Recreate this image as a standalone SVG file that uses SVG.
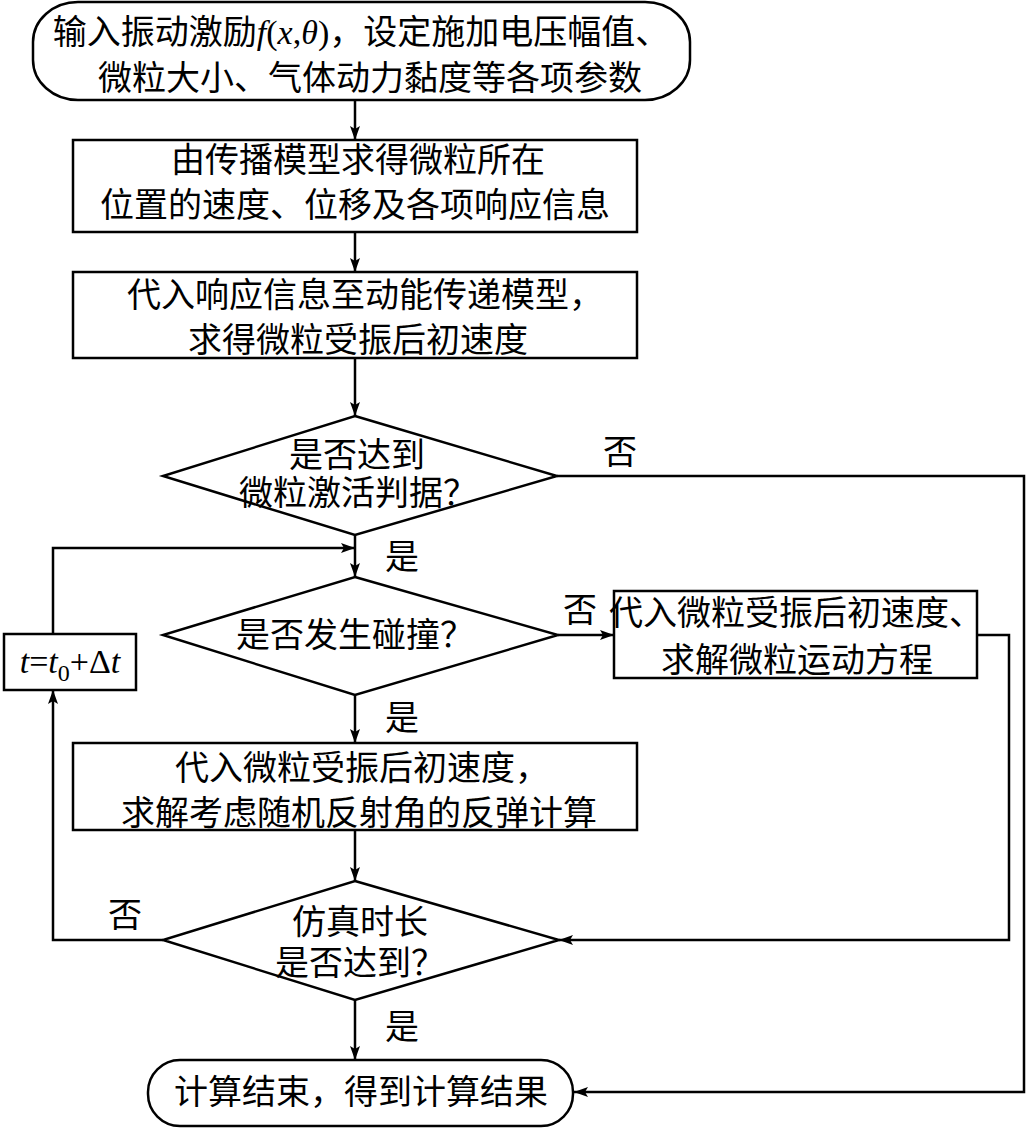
<svg xmlns="http://www.w3.org/2000/svg" width="1028" height="1129" viewBox="0 0 1028 1129">
<style>
.s{fill:#fff;stroke:#000;stroke-width:2.5}
.c{fill:none;stroke:#000;stroke-width:2.5}
.t{font-family:"Liberation Serif","Noto Sans CJK SC",serif;font-size:34px;fill:#000;text-anchor:middle}
.i{font-style:italic}
</style>
<defs>
<marker id="a" viewBox="0 0 14 10" refX="14" refY="5" markerWidth="14" markerHeight="10" markerUnits="userSpaceOnUse" orient="auto">
<path d="M0,0 L14,5 L0,10 L3,5 Z" fill="#000"/>
</marker>
</defs>
<rect width="1028" height="1129" fill="#fff"/>
<g id="connectors">
<line class="c" x1="355" y1="100" x2="355" y2="140" marker-end="url(#a)"/>
<line class="c" x1="355" y1="232" x2="355" y2="272" marker-end="url(#a)"/>
<line class="c" x1="355" y1="358" x2="355" y2="416" marker-end="url(#a)"/>
<line class="c" x1="355" y1="535" x2="355" y2="577" marker-end="url(#a)"/>
<polyline class="c" points="557,476 1024,476 1024,1092 574,1092" marker-end="url(#a)"/>
<polyline class="c" points="53,634 53,548 355,548" marker-end="url(#a)"/>
<line class="c" x1="558" y1="635" x2="614" y2="635" marker-end="url(#a)"/>
<line class="c" x1="355" y1="695" x2="355" y2="743" marker-end="url(#a)"/>
<polyline class="c" points="977,635 1009,635 1009,940 559,940" marker-end="url(#a)"/>
<line class="c" x1="355" y1="830" x2="355" y2="881" marker-end="url(#a)"/>
<polyline class="c" points="163,940 53,940 53,690" marker-end="url(#a)"/>
<line class="c" x1="355" y1="1000" x2="355" y2="1060" marker-end="url(#a)"/>
<text class="t" x="620" y="464">否</text>
<text class="t" x="402" y="569">是</text>
<text class="t" x="580" y="622">否</text>
<text class="t" x="402" y="730">是</text>
<text class="t" x="125" y="927">否</text>
<text class="t" x="402" y="1039">是</text>
</g>
<g id="start">
<rect class="s" x="33" y="2" width="657" height="98" rx="45" ry="40"/>
<text class="t" x="361" y="44">输入振动激励<tspan font-family="Liberation Serif" class="i">f</tspan><tspan font-family="Liberation Serif">(</tspan><tspan font-family="Liberation Serif" class="i">x</tspan><tspan font-family="Liberation Serif">,</tspan><tspan font-family="Liberation Serif" class="i">θ</tspan><tspan font-family="Liberation Serif">)</tspan>，设定施加电压幅值、</text>
<text class="t" x="370" y="90">微粒大小、气体动力黏度等各项参数</text>
</g>
<g id="propagation">
<rect class="s" x="73" y="140" width="564" height="92"/>
<text class="t" x="358" y="172">由传播模型求得微粒所在</text>
<text class="t" x="355" y="217">位置的速度、位移及各项响应信息</text>
</g>
<g id="energy">
<rect class="s" x="73" y="272" width="564" height="86"/>
<text class="t" x="365" y="307">代入响应信息至动能传递模型，</text>
<text class="t" x="358" y="352">求得微粒受振后初速度</text>
</g>
<g id="activation">
<polygon class="s" points="355,416 557,476 355,535 163,476"/>
<text class="t" x="357" y="467">是否达到</text>
<text class="t" x="358" y="505">微粒激活判据？</text>
</g>
<g id="collision">
<polygon class="s" points="355,577 558,635 355,695 163,635"/>
<text class="t" x="355" y="647">是否发生碰撞？</text>
</g>
<g id="motion">
<rect class="s" x="614" y="591" width="363" height="87"/>
<text class="t" x="796" y="625">代入微粒受振后初速度、</text>
<text class="t" x="797" y="672">求解微粒运动方程</text>
</g>
<g id="timestep">
<rect class="s" x="4" y="634" width="132" height="56"/>
<text class="t" x="70" y="673" font-family="Liberation Serif"><tspan class="i">t</tspan>=<tspan class="i">t</tspan><tspan font-size="24" dy="8">0</tspan><tspan dy="-8">+Δ</tspan><tspan class="i">t</tspan></text>
</g>
<g id="rebound">
<rect class="s" x="73" y="743" width="564" height="87"/>
<text class="t" x="362" y="780">代入微粒受振后初速度，</text>
<text class="t" x="359" y="825">求解考虑随机反射角的反弹计算</text>
</g>
<g id="simtime">
<polygon class="s" points="355,881 559,940 355,1000 163,940"/>
<text class="t" x="360" y="934">仿真时长</text>
<text class="t" x="360" y="975">是否达到？</text>
</g>
<g id="end">
<rect class="s" x="148" y="1060" width="425" height="66" rx="32" ry="32"/>
<text class="t" x="361" y="1104">计算结束，得到计算结果</text>
</g>
</svg>
